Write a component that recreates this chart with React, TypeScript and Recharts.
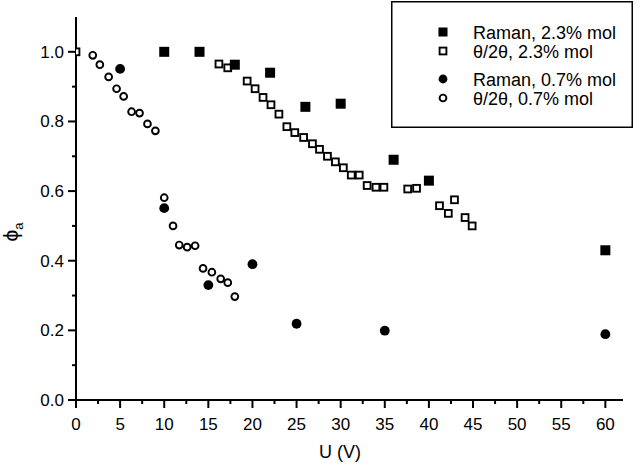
import { ScatterChart, Scatter, XAxis, YAxis, Legend } from 'recharts';

// Raman, 2.3% mol (filled squares)
const ramanHighU = [10, 14, 18, 22, 26, 30, 36, 40, 60];
const ramanHighPhi = [1.0, 1.0, 0.963, 0.94, 0.842, 0.851, 0.69, 0.63, 0.43];

// theta/2theta, 2.3% mol (open squares)
const thetaHighU = [0, 16.2, 17.2, 19.4, 20.3, 21.2, 22.1, 23.0, 23.9, 24.8, 25.8, 26.8, 27.6, 28.5, 29.4, 30.3, 31.2, 32.1, 33.0, 34.0, 34.9, 37.6, 38.6, 41.2, 42.2, 42.9, 44.1, 44.9];
const thetaHighPhi = [1.0, 0.965, 0.954, 0.916, 0.894, 0.869, 0.848, 0.821, 0.785, 0.768, 0.754, 0.736, 0.72, 0.70, 0.684, 0.667, 0.646, 0.646, 0.616, 0.611, 0.611, 0.606, 0.608, 0.558, 0.536, 0.575, 0.524, 0.50];

// Raman, 0.7% mol (filled circles)
const ramanLowU = [5, 10, 15, 20, 25, 35, 60];
const ramanLowPhi = [0.951, 0.551, 0.33, 0.39, 0.219, 0.199, 0.189];

// theta/2theta, 0.7% mol (open circles)
const thetaLowU = [1.9, 2.7, 3.7, 4.6, 5.4, 6.3, 7.2, 8.1, 9.0, 10.0, 11.0, 11.7, 12.6, 13.5, 14.4, 15.4, 16.4, 17.2, 18.0];
const thetaLowPhi = [0.99, 0.963, 0.928, 0.894, 0.872, 0.828, 0.824, 0.793, 0.773, 0.581, 0.50, 0.445, 0.439, 0.443, 0.378, 0.367, 0.348, 0.337, 0.297];

// axis ticks (major ones get a label)
const xTicks = [0, 2.5, 5, 7.5, 10, 12.5, 15, 17.5, 20, 22.5, 25, 27.5, 30, 32.5, 35, 37.5, 40, 42.5, 45, 47.5, 50, 52.5, 55, 57.5, 60];
const xLabels = ['0', '5', '10', '15', '20', '25', '30', '35', '40', '45', '50', '55', '60'];
const yTicks = [0, 0.1, 0.2, 0.3, 0.4, 0.5, 0.6, 0.7, 0.8, 0.9, 1.0];
const yLabels = ['0.0', '0.2', '0.4', '0.6', '0.8', '1.0'];

const FONT = '"Liberation Sans", Arial, Helvetica, sans-serif';

const toPoints = (u: number[], phi: number[]) => u.map((x, i) => ({ u: x, phi: phi[i] }));

type Kind = 'square' | 'circle';

interface SeriesDef {
    name: string;
    kind: Kind;
    filled: boolean;
    data: { u: number; phi: number }[];
}

// draw order: open symbols first so the filled ones sit on top
const series: SeriesDef[] = [
    { name: 'θ/2θ, 0.7% mol', kind: 'circle', filled: false, data: toPoints(thetaLowU, thetaLowPhi) },
    { name: 'θ/2θ, 2.3% mol', kind: 'square', filled: false, data: toPoints(thetaHighU, thetaHighPhi) },
    { name: 'Raman, 0.7% mol', kind: 'circle', filled: true, data: toPoints(ramanLowU, ramanLowPhi) },
    { name: 'Raman, 2.3% mol', kind: 'square', filled: true, data: toPoints(ramanHighU, ramanHighPhi) },
];

const legendOrder = ['Raman, 2.3% mol', 'θ/2θ, 2.3% mol', 'Raman, 0.7% mol', 'θ/2θ, 0.7% mol'];

const Marker = ({ cx, cy, kind, filled, k = 1 }: { cx: number; cy: number; kind: Kind; filled: boolean; k?: number }) => {
    if (kind === 'square') {
        if (filled) {
            const s = 10 * k;
            return <rect x={cx - s / 2} y={cy - s / 2} width={s} height={s} fill="#000" />;
        }
        const s = 6.8 * k;
        return <rect x={cx - s / 2} y={cy - s / 2} width={s} height={s} fill="#fff" stroke="#000" strokeWidth={1.9} />;
    }
    if (filled) return <circle cx={cx} cy={cy} r={4.9 * k} fill="#000" />;
    return <circle cx={cx} cy={cy} r={3.4 * k} fill="#fff" stroke="#000" strokeWidth={1.9} />;
};

const XTick = ({ x, y, payload }: any) => {
    const v = payload.value as number;
    const major = v % 5 === 0;
    return (
        <g>
            <line x1={x} x2={x} y1={y} y2={y + (major ? 8 : 4)} stroke="#000" strokeWidth={2} />
            {major && (
                <text x={x} y={y + 30} textAnchor="middle" fontSize={17} fontFamily={FONT} fill="#000">
                    {xLabels[v / 5]}
                </text>
            )}
        </g>
    );
};

const YTick = ({ x, y, payload }: any) => {
    const v = payload.value as number;
    const idx = Math.round(v * 10);
    const major = idx % 2 === 0;
    return (
        <g>
            <line x1={x} x2={x - (major ? 8 : 4)} y1={y} y2={y} stroke="#000" strokeWidth={2} />
            {major && (
                <text x={x - 12} y={y + 6} textAnchor="end" fontSize={17} fontFamily={FONT} fill="#000">
                    {yLabels[idx / 2]}
                </text>
            )}
        </g>
    );
};

const rowY = [31, 50, 78, 97];

const LegendBox = () => (
    <svg width={242} height={127} style={{ display: 'block' }}>
        <rect x={0.75} y={0.75} width={240.5} height={125.5} fill="#fff" stroke="#000" strokeWidth={1.5} />
        {legendOrder.map((name, i) => {
            const s = series.find(d => d.name === name)!;
            return (
                <g key={name}>
                    <Marker cx={52} cy={rowY[i]} kind={s.kind} filled={s.filled} k={s.filled ? 0.9 : 1} />
                    <text x={82} y={rowY[i] + 6.5} fontSize={18} fontFamily={FONT} fill="#000">
                        {name}
                    </text>
                </g>
            );
        })}
    </svg>
);

export default function App() {
    return (
        <div style={{ position: 'absolute', left: 0, top: 0, width: 640, height: 472, background: '#fff' }}>
            <ScatterChart width={640} height={472} margin={{ top: 17, right: 17, left: 0, bottom: 0 }}>
                <XAxis
                    type="number"
                    dataKey="u"
                    domain={[0, 62]}
                    ticks={xTicks}
                    interval={0}
                    height={72}
                    tickSize={0}
                    tickMargin={0}
                    tickLine={false}
                    tick={<XTick />}
                    axisLine={{ stroke: '#000', strokeWidth: 2 }}
                    allowDataOverflow
                    label={{
                        content: () => (
                            <text x={340} y={458} textAnchor="middle" fontSize={18} fontFamily={FONT} fill="#000">
                                U (V)
                            </text>
                        ),
                    }}
                />
                <YAxis
                    type="number"
                    dataKey="phi"
                    domain={[0, 1.1]}
                    ticks={yTicks}
                    interval={0}
                    width={76}
                    tickSize={0}
                    tickMargin={0}
                    tickLine={false}
                    tick={<YTick />}
                    axisLine={{ stroke: '#000', strokeWidth: 2 }}
                    allowDataOverflow
                    label={{
                        content: () => (
                            <text x={18} y={232} transform="rotate(-90, 18, 232)" textAnchor="middle" fontSize={21} fontFamily={FONT} fill="#000">
                                ϕ<tspan fontSize={13} dy={5}>a</tspan>
                            </text>
                        ),
                    }}
                />
                <Legend
                    layout="vertical"
                    align="center"
                    verticalAlign="middle"
                    wrapperStyle={{ position: 'absolute', left: 391, top: 1, width: 242, height: 127 }}
                    content={() => <LegendBox />}
                />
                {series.map(s => (
                    <Scatter
                        key={s.name}
                        name={s.name}
                        data={s.data}
                        isAnimationActive={false}
                        shape={(p: any) => <Marker cx={p.cx} cy={p.cy} kind={s.kind} filled={s.filled} />}
                    />
                ))}
            </ScatterChart>
        </div>
    );
}
